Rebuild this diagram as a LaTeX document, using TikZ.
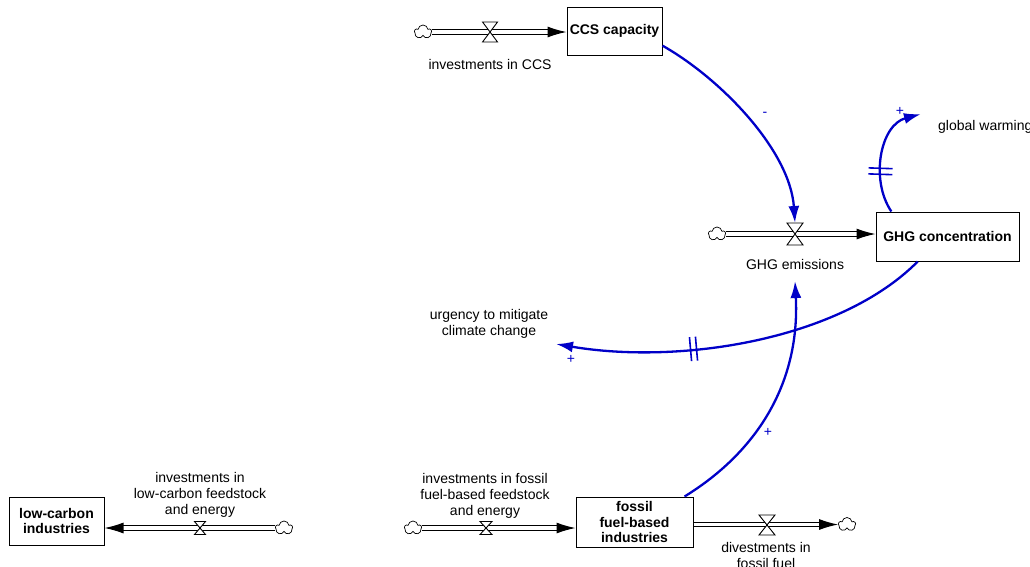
\documentclass[tikz,border=0pt]{standalone}
\usepackage{fontspec}
\setmainfont{Liberation Sans}
\usetikzlibrary{arrows.meta,shapes.symbols,decorations.markings}
\definecolor{linkblue}{RGB}{0,0,200}
\begin{document}
\begin{tikzpicture}[x=1pt,y=-1pt,
  font=\fontsize{14}{16}\selectfont,
  stock/.style={draw,line width=1pt,fill=white,align=center,inner sep=2pt,
    font=\fontsize{14}{15.5}\selectfont\bfseries},
  cloudnode/.style={cloud,draw,cloud puffs=5,cloud puff arc=165,aspect=1.25,
    minimum width=17pt,minimum height=14pt,inner sep=0pt,line width=0.7pt},
  valvebox/.style={inner sep=0pt,outer sep=0pt},
  valvedraw/.style={draw,fill=white,line width=0.9pt},
  pipe/.style={draw=black,double=white,line width=1.1pt,double distance=3.2pt,
    -{Latex[length=19pt,width=11pt]}},
  link/.style={draw=linkblue,line width=2.3pt,-{Latex[length=17pt,width=11pt]}},
  hash/.style={postaction={decorate},decoration={markings,
    mark=at position #1 with {\draw[linkblue,line width=1.6pt,-] (-3,-12) -- (-3,12) (3,-12) -- (3,12);}}},
  sign/.style={text=linkblue,font=\fontsize{14}{14}\selectfont,inner sep=0pt},
  lbl/.style={align=center,inner sep=1pt}
]
\useasboundingbox[fill=white] (0,0) rectangle (1030,566);

% stocks
\node[stock,minimum width=95pt,minimum height=48pt] (ccs) at (614.5,31) {CCS capacity};
\node[stock,minimum width=143pt,minimum height=49pt] (ghg) at (947.5,236.5) {GHG concentration};
\node[stock,minimum width=95pt,minimum height=48pt] (lc) at (56.5,521) {low-carbon\\industries};
\node[stock,minimum width=117pt,minimum height=50pt] (ff) at (634.5,522) {fossil\\fuel-based\\industries};

% sources and sinks
\node[cloudnode] (c1) at (423,32) {};
\node[cloudnode] (c2) at (717,234) {};
\node[cloudnode] (c3) at (284,528) {};
\node[cloudnode] (c4) at (413,528) {};
\node[cloudnode] (c5) at (847,524.5) {};

% valves
\node[valvebox,minimum width=15pt,minimum height=20pt] (v1) at (490,32) {};
\node[valvebox,minimum width=16pt,minimum height=22pt] (v2) at (795,234) {};
\node[valvebox,minimum width=11pt,minimum height=13pt] (v3) at (200,528) {};
\node[valvebox,minimum width=12pt,minimum height=13pt] (v4) at (486,528) {};
\node[valvebox,minimum width=16pt,minimum height=20pt] (v5) at (767,525) {};

% flow pipes
\draw[pipe] (c1.east) -- (c1.east -| ccs.west);
\draw[pipe] (c2.east) -- (c2.east -| ghg.west);
\draw[pipe] (c3.west) -- (c3.west -| lc.east);
\draw[pipe] (c4.east) -- (c4.east -| ff.west);
\draw[pipe] (c5.west -| ff.east) -- (c5.west);

\foreach \v in {v1,v2,v3,v4,v5}
  \draw[valvedraw] (\v.north west) -- (\v.south east) -- (\v.south west) -- (\v.north east) -- cycle;

% labels
\node[lbl] (l1) at (490,64) {investments in CCS};
\node[lbl] (em) at (795,264) {GHG emissions};
\node[lbl,anchor=west] (gw) at (937,127) {global warming};
\node[lbl] (urg) at (489,323.5) {urgency to mitigate\\climate change};
\node[lbl] (lcl) at (200,494.5) {investments in\\low-carbon feedstock\\and energy};
\node[lbl] (ffl) at (485,495.5) {investments in fossil\\fuel-based feedstock\\and energy};
\node[lbl] (div) at (766,555) {divestments in\\fossil fuel};

% link end points
\coordinate (gwend) at (921,114);
\coordinate (urgend) at (556,344);
\coordinate (emend) at (795,281);

% causal links
\draw[link] (ccs.-17) .. controls (720,78) and (790,150) .. (v2.north);
\draw[link,hash=0.36] (ghg.156) .. controls (870,180) and (880,125) .. (gwend);
\draw[link,hash=0.64] (ghg.-140) .. controls (840,340) and (680,365) .. (urgend);
\draw[link] (ff.27) .. controls (760,450) and (800,380) .. (emend);

% polarities
\node[sign] (s1) at (765,114) {-};
\node[sign] (s2) at (900,111) {+};
\node[sign] (s3) at (571,359) {+};
\node[sign] (s4) at (768,432) {+};
\end{tikzpicture}
\end{document}
